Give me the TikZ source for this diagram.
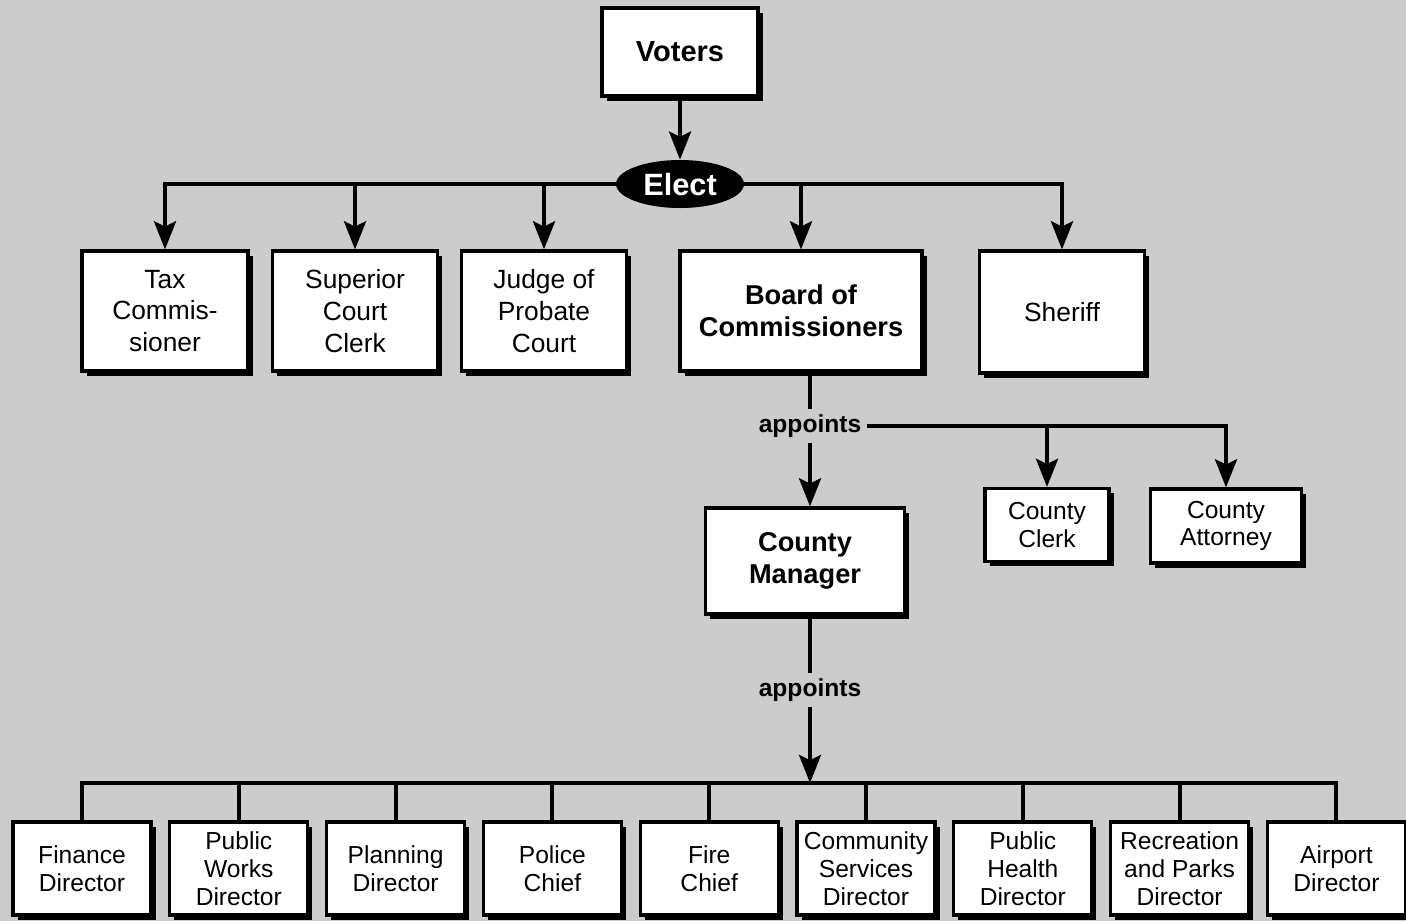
\documentclass[tikz,border=0pt]{standalone}
\usepackage{fontspec}
\setmainfont{Liberation Sans}
\usetikzlibrary{arrows.meta, shapes.geometric, shadows}

\begin{document}
\begin{tikzpicture}[x=0.02cm, y=-0.02cm,
    box/.style 2 args={draw, fill=white, line width=1.8pt, inner sep=1pt, align=center,
        minimum width=#1*0.02cm, minimum height=#2*0.02cm,
        drop shadow={shadow xshift=2.6pt, shadow yshift=-2.6pt, fill=black, opacity=1}},
    office/.style={font=\fontsize{15}{18}\selectfont},
    staff/.style={font=\fontsize{14}{15.8}\selectfont},
    head/.style={font=\bfseries\fontsize{15.5}{18}\selectfont},
    verb/.style={font=\bfseries\fontsize{14}{16}\selectfont, inner sep=3pt},
    wire/.style={line width=2.3pt},
    arr/.style={wire, -{Stealth[length=16pt, width=12.5pt, inset=3pt]}}]

    % Colors
    \definecolor{paper}{RGB}{204,204,204}

    \useasboundingbox (0,0) rectangle (1406,921);
    \fill[paper] (0,0) rectangle (1406,921);

    % ======================
    % Voters and elected offices
    % ======================
    \node[box={156}{88}, font=\bfseries\fontsize{16.5}{19}\selectfont] (voters) at (680,52) {Voters};
    \node[ellipse, fill=black, text=white, inner sep=0pt, minimum width=2.56cm, minimum height=0.96cm,
          font=\bfseries\fontsize{17.5}{20}\selectfont] (elect) at (680,184) {Elect};

    \node[box={166}{120}, office] (tax) at (165,311) {Tax\\Commis-\\sioner};
    \node[box={165}{120}, office] (court) at (355,311) {Superior\\Court\\Clerk};
    \node[box={165}{120}, office] (probate) at (544,311) {Judge of\\Probate\\Court};
    \node[box={242}{120}, head] (board) at (801,311) {Board of\\Commissioners};
    \node[box={165}{122}, office] (sheriff) at (1062,312) {Sheriff};

    \draw[arr] (voters.south) -- (elect.north);
    \draw[arr] (elect.west) -| (tax.north);
    \draw[arr] (elect.west) -| (court.north);
    \draw[arr] (elect.west) -| (probate.north);
    \draw[arr] (elect.east) -| (board.north);
    \draw[arr] (elect.east) -| (sheriff.north);

    % ======================
    % Board appoints
    % ======================
    \node[verb] (appt1) at (810,426) {appoints};
    \node[box={199}{106}, head] (manager) at (805,561) {County\\Manager};
    \node[box={124}{73}, staff] (clerk) at (1047,525) {County\\Clerk};
    \node[box={151}{74}, staff] (attorney) at (1226,526) {County\\Attorney};

    \draw[wire] (board.south -| appt1) -- (appt1.north);
    \draw[arr] (appt1.south) -- (appt1.south |- manager.north);
    \draw[arr] (appt1.east) -| (clerk.north);
    \draw[arr] (appt1.east) -| (attorney.north);

    % ======================
    % Manager appoints department heads
    % ======================
    \node[verb] (appt2) at (810,690) {appoints};
    \coordinate (bus) at (810,783);

    \foreach \n/\t [count=\i from 0] in {fin/{Finance\\Director}, works/{Public\\Works\\Director},
        plan/{Planning\\Director}, police/{Police\\Chief}, fire/{Fire\\Chief},
        comm/{Community\\Services\\Director}, health/{Public\\Health\\Director},
        parks/{Recreation\\and Parks\\Director}, airport/{Airport\\Director}}
        \node[box={138}{93}, staff] (\n) at ({82+156.8*\i},868.5) {\t};

    \draw[wire] (manager.south -| appt2) -- (appt2.north);
    \draw[arr] (appt2.south) -- (bus);
    \draw[wire] (fin.north) |- (bus) -| (airport.north);
    \foreach \n in {works, plan, police, fire, comm, health, parks}
        \draw[wire] (\n.north) -- (\n.north |- bus);

\end{tikzpicture}
\end{document}
